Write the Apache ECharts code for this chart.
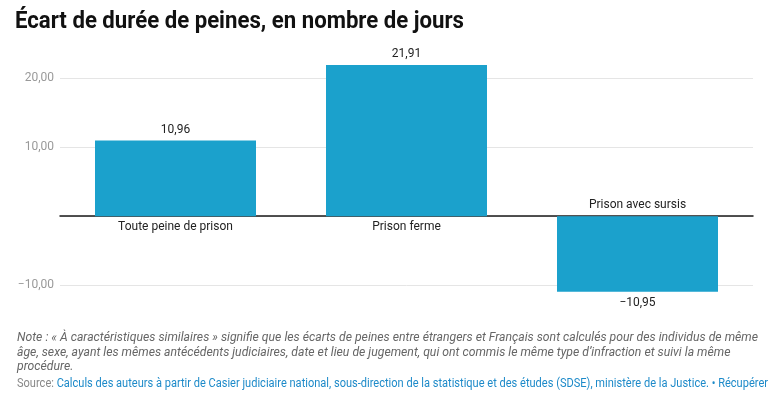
<!DOCTYPE html>
<html><head><meta charset="utf-8">
<script src="https://cdn.jsdelivr.net/npm/echarts@6/dist/echarts.min.js"></script>
<style>html,body{margin:0;padding:0;background:#fff}#c{width:779px;height:393px}</style>
</head><body><div id="c"></div>
<script>
const titleText = 'Écart de durée de peines, en nombre de jours';
const categories = ['Toute peine de prison', 'Prison ferme', 'Prison avec sursis'];
const values = [10.96, 21.91, -10.95];
const yLabelValues = [-10, 10, 20];
const yGridValues = [-10, 0, 10, 20];
const noteLines = [
  'Note : « À caractéristiques similaires » signifie que les écarts de peines entre étrangers et Français sont calculés pour des individus de même',
  'âge, sexe, ayant les mêmes antécédents judiciaires, date et lieu de jugement, qui ont commis le même type d’infraction et suivi la même',
  'procédure.'
];
const sourceLabel = 'Source: ';
const sourceText = 'Calculs des auteurs à partir de Casier judiciaire national, sous-direction de la statistique et des études (SDSE), ministère de la Justice. • Récupérer';

function fr(v, d) {
  const s = Math.abs(v).toFixed(d).replace('.', ',');
  return (v < 0 ? '\u2212' : '') + s;
}
const mctx = document.createElement('canvas').getContext('2d');
function fit(text, font, target) { mctx.font = font; return target / mctx.measureText(text).width; }

const titleFont = 'bold 23px Roboto';
const noteFont = 'italic 13px Roboto';
const srcFont = '12.5px Roboto';
const titleScale = fit(titleText, titleFont, 449);
const noteScale = fit(noteLines[0], noteFont, 741);
const srcScale = fit(sourceLabel + sourceText, srcFont, 751);

const noteY = [337.5, 352.5, 367];
const graphics = [
  { type: 'text', x: 15, y: 22, scaleX: titleScale,
    style: { text: titleText, font: titleFont, fill: '#111', verticalAlign: 'middle' } }
];
noteLines.forEach((t, i) => graphics.push({
  type: 'text', x: 17, y: noteY[i], scaleX: noteScale,
  style: { text: t, font: noteFont, fill: '#666', verticalAlign: 'middle' }
}));
graphics.push({
  type: 'text', x: 17, y: 383.5, scaleX: srcScale,
  style: {
    text: '{a|' + sourceLabel + '}{b|' + sourceText + '}', verticalAlign: 'middle',
    rich: { a: { font: srcFont, fill: '#888' }, b: { font: srcFont, fill: '#1d8ac9' } }
  }
});

const chart = echarts.init(document.getElementById('c'), null, { renderer: 'canvas' });
chart.setOption({
  animation: false,
  backgroundColor: '#fff',
  textStyle: { fontFamily: 'Roboto' },
  grid: { left: 60, right: 26, top: 57.5, bottom: 94, containLabel: false },
  xAxis: {
    type: 'category', data: categories,
    axisLine: { onZero: true, lineStyle: { color: '#1a1a1a', width: 1.5 } },
    axisTick: { show: false }, axisLabel: { show: false }, splitLine: { show: false }
  },
  yAxis: {
    type: 'value', min: -12, max: 23,
    axisLine: { show: false },
    axisTick: { show: false, customValues: yGridValues },
    axisLabel: { customValues: yLabelValues, color: '#999', fontSize: 12, margin: 6,
      formatter: v => fr(v, 2) },
    splitLine: { show: true, lineStyle: { color: '#e5e5e5', width: 1 } }
  },
  series: [
    {
      type: 'bar', barWidth: 161, z: 2,
      itemStyle: { color: '#1ba1cc' },
      data: values.map(v => ({ value: v, label: { position: v >= 0 ? 'top' : 'bottom' } })),
      label: { show: true, color: '#222', fontSize: 12, distance: 5, formatter: p => fr(p.value, 2) }
    },
    {
      type: 'bar', barWidth: 161, barGap: '-100%', z: 3, silent: true,
      itemStyle: { color: 'rgba(0,0,0,0)' },
      data: values.map(v => ({ value: v, label: { position: v >= 0 ? 'bottom' : 'top' } })),
      label: { show: true, color: '#222', fontSize: 12, distance: 5, formatter: p => p.name }
    }
  ],
  graphic: graphics
});
</script></body></html>
